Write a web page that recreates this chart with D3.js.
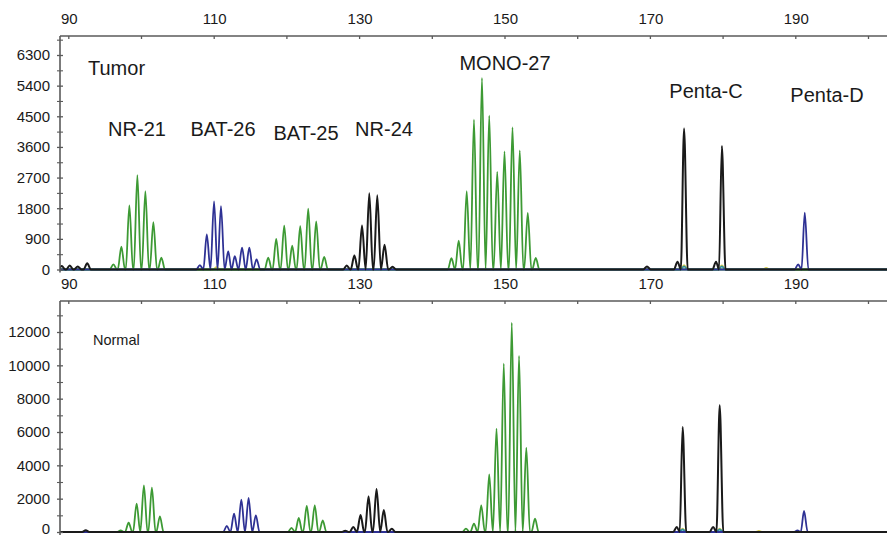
<!DOCTYPE html>
<html>
<head>
<meta charset="utf-8">
<script src="https://cdn.jsdelivr.net/npm/d3@7"></script>
<style>
  body { margin: 0; background: #fff; }
  svg { display: block; font-family: 'Liberation Sans', Arial, sans-serif; }
</style>
</head>
<body>
<script>
const width = 887
const height = 538

// size axis (bp)
const xTickValues = [90, 100, 110, 120, 130, 140, 150, 160, 170, 180, 190, 200]
const xTickLabels = [90, 110, 130, 150, 170, 190]

// y tick labels
const tumorYTicks = [0, 900, 1800, 2700, 3600, 4500, 5400, 6300]
const tumorYMinor = [450, 1350, 2250, 3150, 4050, 4950, 5850, 6750]
const normalYTicks = [0, 2000, 4000, 6000, 8000, 10000, 12000]
const normalYMinor = [1000, 3000, 5000, 7000, 9000, 11000, 13000]

// peaks: [size in bp, height in RFU]
const tumorGreen = [
  [96.2, 150], [97.3, 670], [98.4, 1880], [99.5, 2770], [100.6, 2300], [101.7, 1390], [102.8, 350],
  [117.5, 350], [118.6, 900], [119.7, 1290], [120.8, 700], [121.9, 1270], [123.0, 1790], [124.1, 1410], [125.2, 370],
  [142.7, 330], [143.7, 850], [144.8, 2300], [145.8, 4400], [146.9, 5630], [147.9, 4520], [149.0, 2870],
  [150.0, 3470], [151.1, 4170], [152.1, 3500], [153.2, 1660], [154.3, 340]
]
const tumorBlue = [
  [108.1, 130], [109.05, 1030], [110.05, 2000], [111.0, 1860], [112.0, 530], [112.9, 390],
  [113.9, 640], [114.9, 640], [115.9, 300],
  [190.4, 150], [191.3, 1670]
]
const tumorBlack = [
  [89.1, 100], [90.2, 120], [91.3, 90], [92.6, 180],
  [128.3, 120], [129.35, 410], [130.4, 1290], [131.4, 2240], [132.5, 2180], [133.5, 730], [134.6, 80],
  [169.6, 90], [173.8, 230], [174.7, 4140], [179.1, 230], [179.9, 3630]
]
const tumorYellow = [[110.4, 70], [174.7, 130], [179.9, 120], [186.0, 50]]
const tumorTeal = [[174.7, 90], [179.9, 90]]

const normalGreen = [
  [97.2, 100], [98.3, 560], [99.4, 1700], [100.4, 2800], [101.5, 2660], [102.6, 940],
  [120.7, 250], [121.7, 840], [122.8, 1560], [123.9, 1600], [125.0, 700],
  [144.7, 200], [145.8, 500], [146.8, 1600], [147.9, 3460], [148.9, 6200], [149.9, 10100],
  [151.0, 12560], [152.0, 10560], [153.0, 5060], [154.2, 800]
]
const normalBlue = [
  [111.8, 360], [112.8, 1100], [113.8, 1940], [114.8, 2040], [115.8, 1000],
  [190.3, 100], [191.2, 1260]
]
const normalBlack = [
  [92.4, 100], [128.1, 80], [129.2, 300], [130.2, 1020], [131.3, 2140], [132.4, 2580], [133.4, 1320], [134.5, 200],
  [173.7, 300], [174.5, 6300], [178.7, 300], [179.6, 7600]
]
const normalYellow = [[174.5, 200], [179.6, 200], [185.0, 60]]
const normalTeal = [[174.5, 150], [179.6, 150]]

const tumorMarkers = ['NR-21', 'BAT-26', 'BAT-25', 'NR-24', 'MONO-27', 'Penta-C', 'Penta-D']

const colors = {
  green: '#3d9a34',
  blue: '#2e3194',
  black: '#1a1a1a',
  yellow: '#d9cc4a',
  teal: '#2f8fa0'
}

const svg = d3.select('body').append('svg')
  .attr('width', width)
  .attr('height', height)

const x = d3.scaleLinear()
  .domain([90, 200])
  .range([68.3, 868])

const axisColor = '#5a5a5a'
const peakHalfWidth = 0.5

// turn a list of peaks into a polyline along the baseline
function trace (peaks) {
  const sorted = peaks.slice().sort((a, b) => a[0] - b[0])
  const pts = [[86, 0]]
  sorted.forEach(([p, h], i) => {
    const prev = sorted[i - 1]
    if (!prev || p - prev[0] > 2 * peakHalfWidth) pts.push([p - peakHalfWidth, 0])
    pts.push([p, h])
    const next = sorted[i + 1]
    if (!next || next[0] - p > 2 * peakHalfWidth) pts.push([p + peakHalfWidth, 0])
    else pts.push([(p + next[0]) / 2, 0])
  })
  pts.push([205, 0])
  return pts
}

function panel (cfg) {
  const y = d3.scaleLinear()
    .domain([0, cfg.yTop])
    .range([cfg.zeroY, cfg.topY])

  const g = svg.append('g')

  const clipId = 'clip-' + cfg.name
  svg.append('clipPath').attr('id', clipId)
    .append('rect')
    .attr('x', 60).attr('y', cfg.topY)
    .attr('width', width - 60).attr('height', cfg.zeroY - cfg.topY + 4)

  const line = d3.line()
    .x(d => x(d[0]))
    .y(d => y(d[1]))
    .curve(d3.curveMonotoneX)

  const traces = g.append('g').attr('clip-path', `url(#${clipId})`)
  cfg.series.forEach(s => {
    traces.append('path')
      .datum(trace(s.peaks))
      .attr('fill', 'none')
      .attr('stroke', colors[s.color])
      .attr('stroke-width', s.color === 'black' ? 2 : 1.8)
      .attr('stroke-linejoin', 'round')
      .attr('d', line)
  })

  // top size axis
  const top = g.append('g')
    .attr('transform', `translate(0,${cfg.topY})`)
    .call(d3.axisTop(x).tickValues(xTickValues).tickSize(3).tickFormat(''))
  top.select('.domain').remove()
  top.append('line')
    .attr('x1', 60).attr('x2', width)
    .attr('stroke', axisColor).attr('stroke-width', 1.6)
  top.selectAll('.tick line').attr('y2', 3).attr('stroke', axisColor).attr('stroke-width', 1.3)

  g.selectAll('.xlab')
    .data(xTickLabels)
    .join('text')
    .attr('x', d => x(d) + 1)
    .attr('y', cfg.topY - 12)
    .attr('text-anchor', 'middle')
    .attr('font-size', 15)
    .attr('fill', '#1a1a1a')
    .text(d => d)

  // left RFU axis
  const left = g.append('g')
    .attr('transform', 'translate(60,0)')
    .call(d3.axisLeft(y).tickValues(cfg.yTicks).tickSize(3).tickPadding(7).tickFormat(d3.format('d')))
  left.select('.domain').remove()
  left.append('line')
    .attr('y1', cfg.topY).attr('y2', cfg.zeroY + 3)
    .attr('stroke', axisColor).attr('stroke-width', 1.6)
  left.selectAll('.tick line').attr('x2', -3).attr('x1', 3).attr('stroke', axisColor).attr('stroke-width', 1.3)
  left.selectAll('.tick text').attr('font-size', 15).attr('fill', '#1a1a1a')
    .attr('font-family', 'Liberation Sans, Arial, sans-serif')
  // keep the bottom zero label inside the picture
  left.selectAll('.tick text').filter(d => d === 0 && cfg.zeroY > 520).attr('dy', '0.12em')

  const minor = g.append('g')
    .attr('transform', 'translate(60,0)')
    .call(d3.axisLeft(y).tickValues(cfg.yMinor.filter(v => y(v) > cfg.topY + 2)).tickSize(3).tickFormat(''))
  minor.select('.domain').remove()
  minor.selectAll('.tick line').attr('x1', 3).attr('stroke', axisColor).attr('stroke-width', 1.1)

  return g
}

panel({
  name: 'tumor',
  topY: 36,
  zeroY: 269.5,
  yTop: 6300 * (269.5 - 36) / (269.5 - 55),
  yTicks: tumorYTicks,
  yMinor: tumorYMinor,
  series: [
    { color: 'yellow', peaks: tumorYellow },
    { color: 'teal', peaks: tumorTeal },
    { color: 'green', peaks: tumorGreen },
    { color: 'blue', peaks: tumorBlue },
    { color: 'black', peaks: tumorBlack }
  ]
})

panel({
  name: 'normal',
  topY: 301,
  zeroY: 532,
  yTop: 12000 * (532 - 301) / (532 - 332),
  yTicks: normalYTicks,
  yMinor: normalYMinor,
  series: [
    { color: 'yellow', peaks: normalYellow },
    { color: 'teal', peaks: normalTeal },
    { color: 'green', peaks: normalGreen },
    { color: 'blue', peaks: normalBlue },
    { color: 'black', peaks: normalBlack }
  ]
})

// marker labels
const markerPos = [[137, 136], [223, 136], [306, 140], [384, 136], [505, 70], [706, 98], [827, 102]]
svg.selectAll('.marker')
  .data(tumorMarkers)
  .join('text')
  .attr('x', (d, i) => markerPos[i][0])
  .attr('y', (d, i) => markerPos[i][1])
  .attr('text-anchor', 'middle')
  .attr('font-size', 20)
  .attr('fill', '#1a1a1a')
  .text(d => d)

svg.append('text')
  .attr('x', 88).attr('y', 75)
  .attr('font-size', 20)
  .attr('fill', '#1a1a1a')
  .text('Tumor')

svg.append('text')
  .attr('x', 93).attr('y', 345)
  .attr('font-size', 14.5)
  .attr('fill', '#1a1a1a')
  .text('Normal')
</script>
</body>
</html>
